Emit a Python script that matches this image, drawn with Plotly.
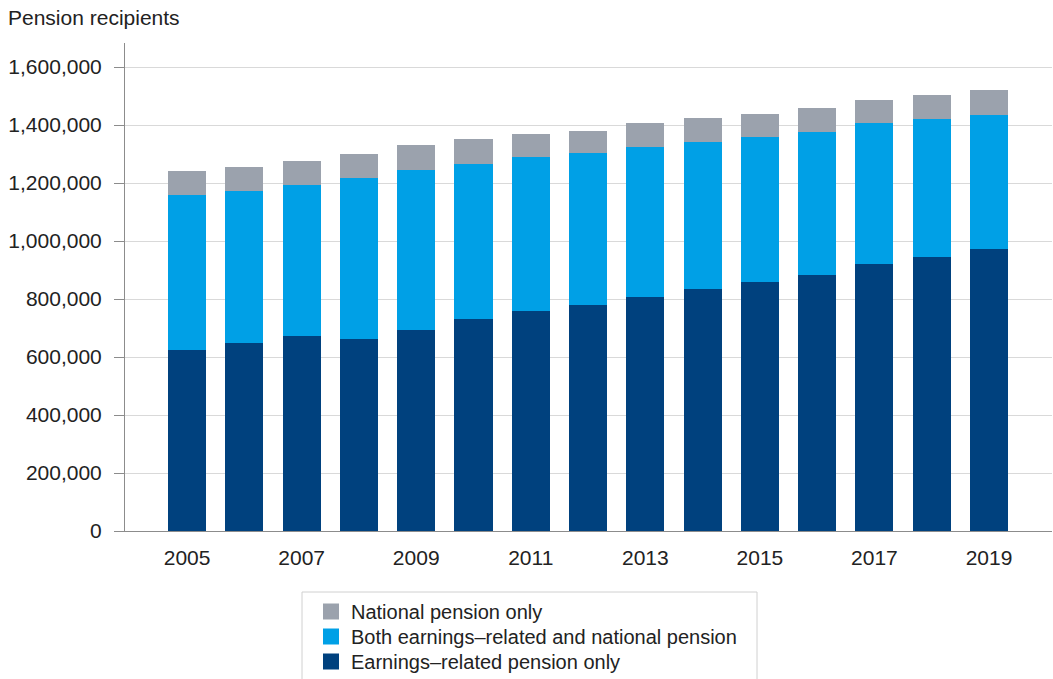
import plotly.graph_objects as go

# Pension recipients by type of pension, 2005-2019
years = list(range(2005, 2020))
earnings_only = [624000, 647000, 673000, 662000, 694000, 730000, 759000, 779000,
                 807000, 833000, 859000, 882000, 921000, 946000, 972000]
both_pensions = [536000, 524000, 520000, 555000, 551000, 537000, 532000, 524000,
                 516000, 510000, 500000, 494000, 486000, 476000, 464000]
national_only = [80000, 85000, 82000, 82000, 85000, 84000, 78000, 77000,
                 83000, 80000, 80000, 83000, 80000, 83000, 84000]

series_names = ["Earnings\u2013related pension only",
                "Both earnings\u2013related and national pension",
                "National pension only"]
series_colors = ["#00417E", "#00A0E6", "#9BA2AD"]
y_ticks = [0, 200000, 400000, 600000, 800000, 1000000, 1200000, 1400000, 1600000]
x_ticks = [2005, 2007, 2009, 2011, 2013, 2015, 2017, 2019]

FONT = "Liberation Sans, Arial, sans-serif"
TEXT = "#222222"

# plot area in pixels
L, R, T, B = 125, 1052, 43, 531
PW, PH = R - L, B - T


def px_x(x):
    return (x - L) / PW


def px_y(y):
    return (B - y) / PH


fig = go.Figure()
for name, vals, col in zip(series_names,
                           [earnings_only, both_pensions, national_only],
                           series_colors):
    fig.add_trace(go.Bar(x=years, y=vals, name=name, marker_color=col,
                         marker_line_width=0, width=0.664, showlegend=False))

# legend entries: one single-row legend per series, stacked like the bars
# (national pension on top, earnings-related at the bottom)
legend_ids = ["legend3", "legend2", "legend"]
row_centers = {"legend": 612, "legend2": 637, "legend3": 662}
for name, col, lid in zip(series_names, series_colors, legend_ids):
    fig.add_trace(go.Scatter(x=[None], y=[None], mode="markers", name=name,
                             marker=dict(symbol="square", size=16, color=col),
                             legend=lid, showlegend=True))

legend_common = dict(
    xanchor="left", yanchor="top", bgcolor="rgba(0,0,0,0)", borderwidth=0,
    font=dict(family=FONT, size=20, color=TEXT), itemwidth=30,
)
legend_layout = {
    lid: dict(legend_common, x=px_x(311), y=px_y(yc - 20))
    for lid, yc in row_centers.items()
}

fig.update_layout(
    width=1053, height=679,
    barmode="stack",
    plot_bgcolor="white", paper_bgcolor="white",
    margin=dict(l=L, r=1053 - R, t=T, b=679 - B, autoexpand=False),
    font=dict(family=FONT, size=21, color=TEXT),
    xaxis=dict(
        range=[2003.916, 2020.1],
        tickmode="array", tickvals=x_ticks, ticktext=[str(v) for v in x_ticks],
        showgrid=False, zeroline=False,
        showline=True, linecolor="#8C8C8C", linewidth=1,
        ticks="", ticklabelstandoff=8,
        tickfont=dict(family=FONT, size=21, color=TEXT),
    ),
    yaxis=dict(
        range=[0, 1683000],
        tickmode="array", tickvals=y_ticks,
        ticktext=[f"{v:,}" for v in y_ticks],
        showgrid=True, gridcolor="#D9D9D9", gridwidth=1,
        zeroline=False,
        showline=True, linecolor="#8C8C8C", linewidth=1,
        ticks="outside", ticklen=10, tickcolor="#8C8C8C",
        ticklabelstandoff=8,
        tickfont=dict(family=FONT, size=21, color=TEXT),
    ),
    annotations=[dict(
        text="Pension recipients", xref="paper", yref="paper",
        x=px_x(6), y=px_y(18),
        xanchor="left", yanchor="middle", showarrow=False,
        font=dict(family=FONT, size=21, color=TEXT),
    )],
    shapes=[dict(
        type="rect", xref="paper", yref="paper",
        x0=px_x(302), x1=px_x(757), y0=px_y(592), y1=px_y(700),
        line=dict(color="#D0D0D0", width=1), fillcolor="rgba(0,0,0,0)",
        layer="below",
    )],
    **legend_layout,
)

fig.write_html("out.html")
